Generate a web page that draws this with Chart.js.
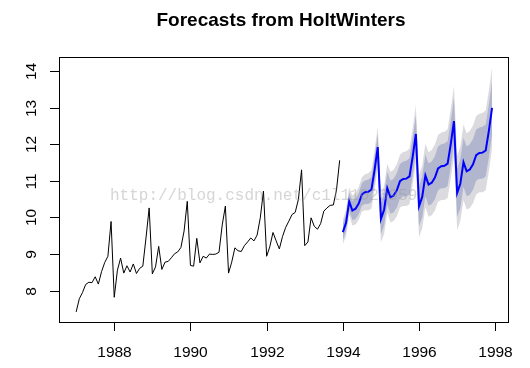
<!DOCTYPE html>
<html>
<head>
<meta charset="utf-8">
<script src="https://cdn.jsdelivr.net/npm/chart.js@4.4.1/dist/chart.umd.min.js"></script>
<style>
  body { margin: 0; background: #fff; }
  #wrap { width: 530px; height: 368px; }
</style>
</head>
<body>
<div id="wrap"><canvas id="myChart" width="530" height="368"></canvas></div>
<script>
// log souvenir sales, monthly from Jan 1987
const histStart = 1987;
const history = [
  7.42, 7.78, 7.95, 8.17, 8.23, 8.22, 8.38, 8.18, 8.52, 8.77, 8.94, 9.89,
  7.82, 8.56, 8.89, 8.48, 8.68, 8.51, 8.73, 8.47, 8.61, 8.67, 9.44, 10.26,
  8.46, 8.65, 9.21, 8.58, 8.78, 8.80, 8.90, 9.01, 9.06, 9.18, 9.63, 10.44,
  8.69, 8.67, 9.43, 8.76, 8.94, 8.89, 9.00, 8.99, 9.00, 9.05, 9.79, 10.31,
  8.48, 8.78, 9.17, 9.09, 9.07, 9.23, 9.33, 9.44, 9.36, 9.52, 9.99, 10.72,
  8.94, 9.20, 9.59, 9.36, 9.14, 9.48, 9.73, 9.90, 10.08, 10.14, 10.49, 11.30,
  9.23, 9.33, 9.99, 9.76, 9.68, 9.83, 10.17, 10.26, 10.33, 10.34, 10.75, 11.56
];

// HoltWinters forecasts, monthly from Jan 1994
const fcStart = 1994;
const forecast = [
  9.60, 9.85, 10.44, 10.19, 10.24, 10.38, 10.63, 10.69, 10.70, 10.76, 11.30, 11.92,
  9.96, 10.21, 10.80, 10.55, 10.60, 10.74, 10.99, 11.05, 11.06, 11.12, 11.66, 12.28,
  10.31, 10.56, 11.15, 10.90, 10.95, 11.09, 11.34, 11.40, 11.41, 11.47, 12.01, 12.63,
  10.67, 10.92, 11.51, 11.26, 11.31, 11.45, 11.70, 11.76, 11.77, 11.83, 12.37, 12.99
];
const hi80 = [
  9.82, 10.08, 10.69, 10.45, 10.52, 10.67, 10.94, 11.01, 11.03, 11.10, 11.65, 12.28,
  10.38, 10.64, 11.24, 11.00, 11.06, 11.21, 11.46, 11.53, 11.55, 11.62, 12.17, 12.79,
  10.86, 11.12, 11.72, 11.48, 11.53, 11.68, 11.94, 12.00, 12.02, 12.08, 12.63, 13.26,
  11.33, 11.59, 12.18, 11.94, 12.00, 12.14, 12.40, 12.46, 12.48, 12.54, 13.09, 13.71
];
const lo80 = [
  9.38, 9.62, 10.19, 9.93, 9.96, 10.09, 10.32, 10.37, 10.37, 10.42, 10.95, 11.56,
  9.54, 9.78, 10.36, 10.10, 10.14, 10.27, 10.52, 10.57, 10.57, 10.62, 11.15, 11.77,
  9.76, 10.00, 10.58, 10.32, 10.37, 10.50, 10.74, 10.80, 10.80, 10.86, 11.39, 12.00,
  10.01, 10.25, 10.84, 10.58, 10.62, 10.76, 11.00, 11.06, 11.06, 11.12, 11.65, 12.27
];
const hi95 = [
  9.93, 10.21, 10.82, 10.60, 10.67, 10.83, 11.10, 11.18, 11.21, 11.28, 11.84, 12.48,
  10.60, 10.87, 11.47, 11.24, 11.30, 11.45, 11.71, 11.79, 11.81, 11.88, 12.43, 13.06,
  11.16, 11.42, 12.02, 11.78, 11.84, 11.99, 12.25, 12.32, 12.34, 12.41, 12.96, 13.59,
  11.68, 11.94, 12.54, 12.30, 12.36, 12.51, 12.77, 12.83, 12.85, 12.92, 13.47, 14.10
];
const lo95 = [
  9.27, 9.49, 10.06, 9.78, 9.81, 9.93, 10.16, 10.20, 10.19, 10.24, 10.76, 11.36,
  9.32, 9.55, 10.13, 9.86, 9.90, 10.03, 10.27, 10.31, 10.31, 10.36, 10.89, 11.50,
  9.46, 9.70, 10.28, 10.02, 10.06, 10.19, 10.43, 10.48, 10.48, 10.53, 11.06, 11.67,
  9.66, 9.90, 10.48, 10.22, 10.26, 10.39, 10.63, 10.69, 10.69, 10.74, 11.27, 11.88
];

const xTicks = [1988, 1990, 1992, 1994, 1996, 1998];
const yTicks = [8, 9, 10, 11, 12, 13, 14];
const title = 'Forecasts from HoltWinters';
const watermark = 'http://blog.csdn.net/c1l11020959';

const toPoints = (start, arr) => arr.map((v, i) => ({ x: start + i / 12, y: v }));

const bandLine = (data, fillColor, fill) => ({
  data: toPoints(fcStart, data),
  borderWidth: 0,
  pointRadius: 0,
  backgroundColor: fillColor,
  fill: fill
});

const rAxes = {
  id: 'rAxes',
  afterDraw(chart) {
    const { ctx, chartArea: a, scales: { x, y } } = chart;
    ctx.save();
    ctx.strokeStyle = '#000';
    ctx.lineWidth = 1;
    ctx.strokeRect(a.left + 0.5, a.top + 0.5, a.right - a.left, a.bottom - a.top);

    ctx.fillStyle = '#000';
    ctx.font = '15.5px "Liberation Sans", Arial, sans-serif';
    ctx.textAlign = 'center';
    ctx.textBaseline = 'alphabetic';
    xTicks.forEach(t => {
      const px = Math.round(x.getPixelForValue(t)) + 0.5;
      ctx.beginPath();
      ctx.moveTo(px, a.bottom);
      ctx.lineTo(px, a.bottom + 9);
      ctx.stroke();
      ctx.fillText(String(t), px, 357);
    });
    yTicks.forEach(t => {
      const py = Math.round(y.getPixelForValue(t)) + 0.5;
      ctx.beginPath();
      ctx.moveTo(a.left, py);
      ctx.lineTo(a.left - 9, py);
      ctx.stroke();
      ctx.save();
      ctx.translate(36, py);
      ctx.rotate(-Math.PI / 2);
      ctx.fillText(String(t), 0, 0);
      ctx.restore();
    });

    ctx.font = 'bold 19px "Liberation Sans", Arial, sans-serif';
    ctx.fillText(title, 281, 26);

    ctx.font = '16px "Liberation Mono", monospace';
    ctx.textAlign = 'left';
    ctx.fillStyle = 'rgba(150,150,150,0.4)';
    ctx.fillText(watermark, 110, 200);
    ctx.restore();
  }
};

const ctx = document.getElementById('myChart').getContext('2d');

const myChart = new Chart(ctx, {
  type: 'line',
  data: {
    datasets: [
      { data: toPoints(histStart, history), borderColor: '#000', borderWidth: 1, pointRadius: 0, fill: false },
      { data: toPoints(fcStart, forecast), borderColor: '#0000ff', borderWidth: 2, pointRadius: 0, fill: false },
      bandLine(hi80, '#b1b5ce', '+1'),
      bandLine(lo80, 'transparent', false),
      bandLine(hi95, '#dbdbdf', '+1'),
      bandLine(lo95, 'transparent', false)
    ]
  },
  options: {
    responsive: false,
    animation: false,
    events: [],
    layout: { padding: { left: 59, top: 57, right: 22, bottom: 46 } },
    elements: { line: { tension: 0 } },
    plugins: { legend: { display: false }, tooltip: { enabled: false }, title: { display: false } },
    scales: {
      x: { type: 'linear', min: 1986.55, max: 1998.335, display: false },
      y: { type: 'linear', min: 7.145, max: 14.382, display: false }
    }
  },
  plugins: [rAxes]
});
</script>
</body>
</html>
